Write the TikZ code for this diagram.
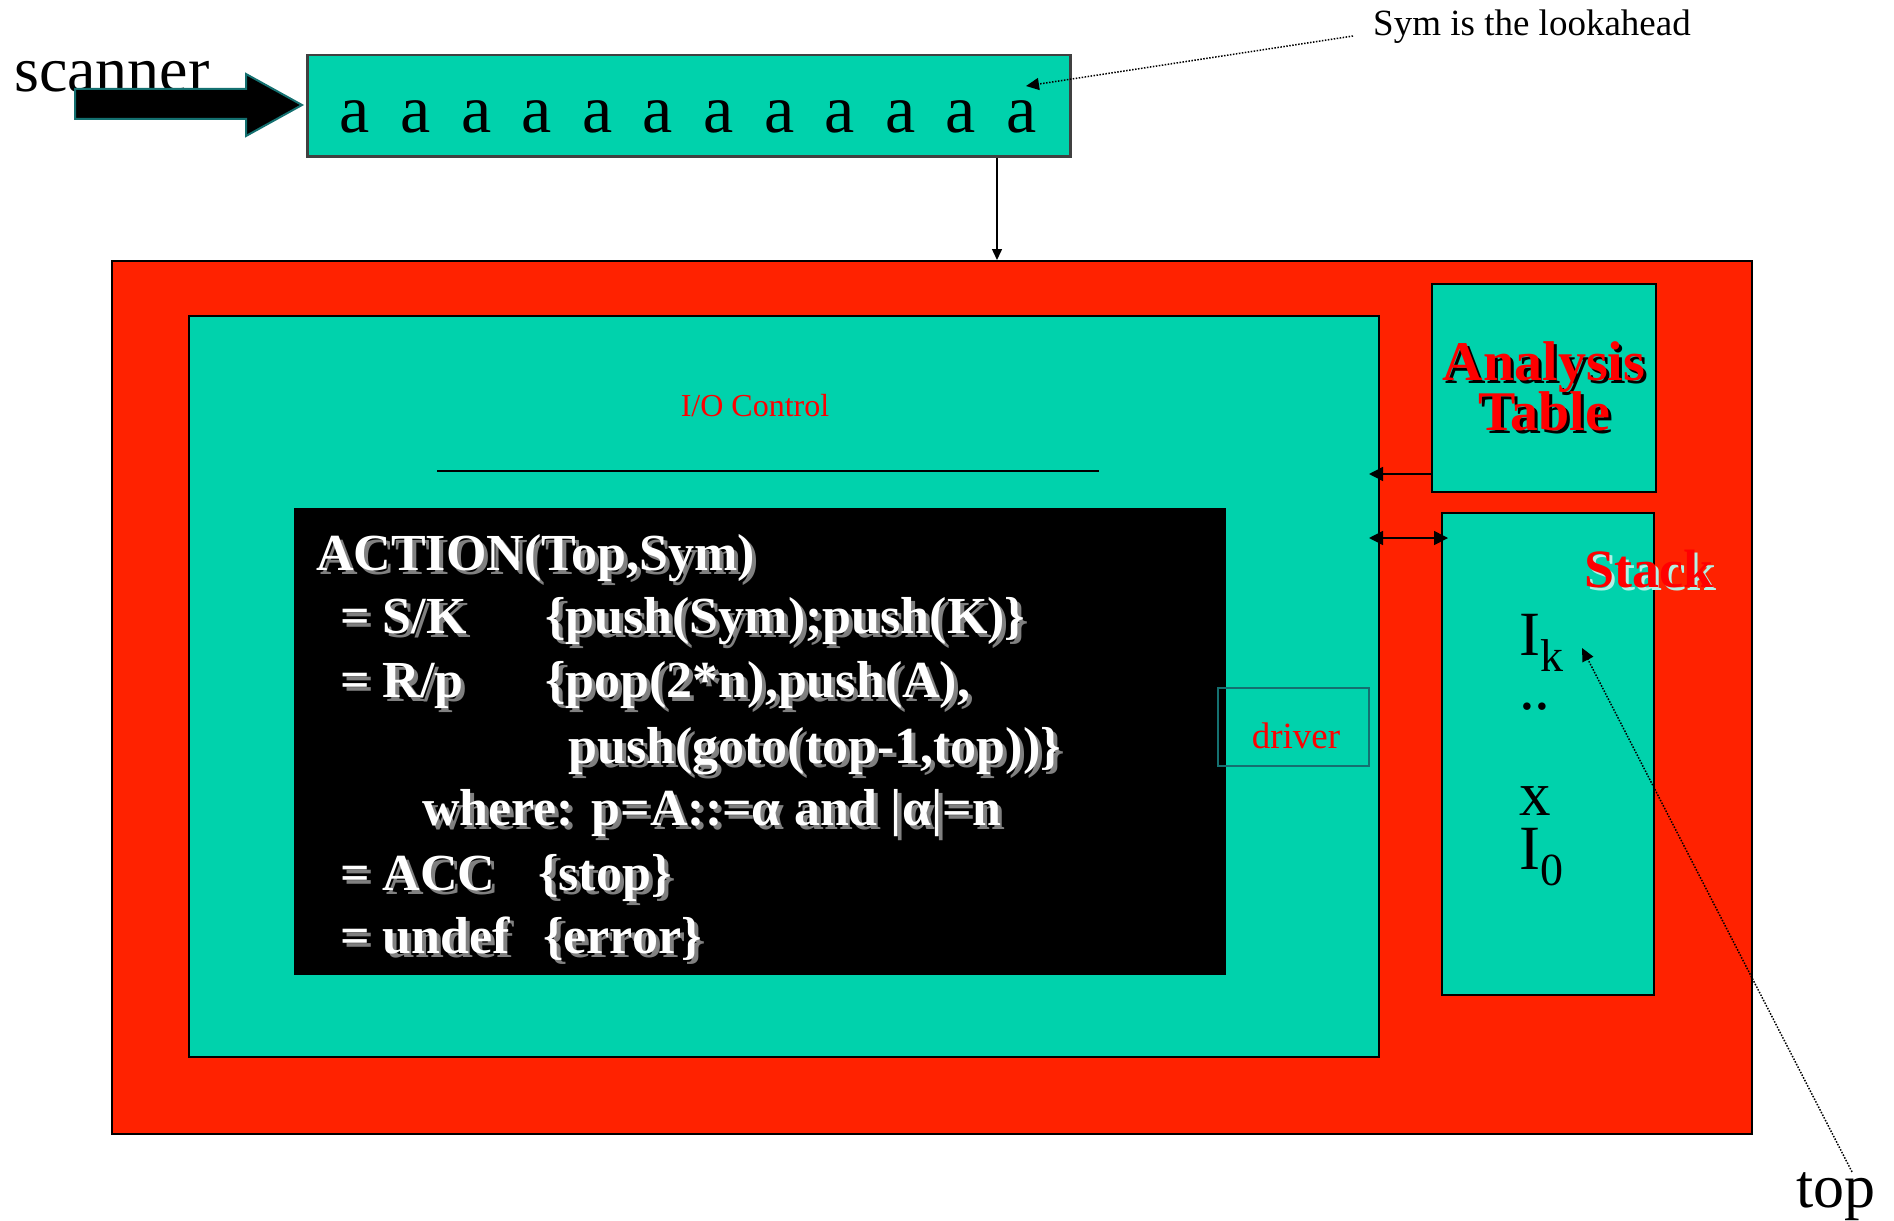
\documentclass[tikz,border=0pt]{standalone}
\usepackage{fontspec}
\setmainfont{Liberation Serif}
\usetikzlibrary{arrows.meta}

\definecolor{sea}{RGB}{0,210,172}
\definecolor{flame}{RGB}{255,34,0}
\definecolor{drvedge}{RGB}{20,112,112}

\newcommand{\fsz}[1]{\fontsize{#1}{#1}\selectfont}
% text with a drop shadow: text, shadow colour, offset
\newcommand{\shadowed}[3]{\rlap{\hspace{#3}\raisebox{-#3}{\color{#2}#1}}#1}
\newcommand{\cl}[1]{\shadowed{#1}{gray}{4pt}}

\tikzset{
  panel/.style={draw=black, line width=2pt, fill=sea, anchor=north west, inner sep=0pt},
  txt/.style={inner sep=0pt, font=\fsz{#1}},
  codeline/.style={anchor=base west, inner sep=0pt, text=white, font=\fsz{52}\bfseries},
  arrowline/.style={line width=1.5pt, >={Triangle[length=14pt,width=14pt]}},
  dotarrow/.style={->, line width=1.5pt, dash pattern=on 1.5pt off 1.5pt,
    >={Triangle[length=13pt,width=12pt]}},
}

\begin{document}
\begin{tikzpicture}[x=1pt,y=-1pt]
\useasboundingbox (0,0) rectangle (1894,1220);

% Input tape
\node[panel, draw=black!75, line width=2.5pt, minimum width=763pt, minimum height=101pt] (tape) at (306,54) {};
\foreach \i in {0,...,11}
  \node[txt=68, anchor=base] (a\i) at (355+60.6*\i,132) {a};

\node[txt=64, anchor=base west] (scanner) at (14,92) {scanner};
\draw[fill=black, draw=drvedge, line width=2pt] (75,89) -- (246,89) -- (246,74) -- (302,105)
  -- (246,136) -- (246,119) -- (75,119) -- cycle;

\node[txt=37, anchor=base west, inner xsep=20pt] (lookahead) at (1353,36) {Sym is the lookahead};
\coordinate (symtip) at (1026,86);
\draw[dotarrow] (lookahead.base west) -- (symtip);

% Parser
\node[panel, fill=flame, minimum width=1640pt, minimum height=873pt] (outer) at (111,260) {};
\coordinate (feed) at (997,0);
\draw[arrowline, ->, >={Triangle[length=11pt,width=10pt]}] (tape.south -| feed) -- (outer.north -| feed);

\node[panel, minimum width=1190pt, minimum height=741pt] (main) at (188,315) {};
\node[txt=32, text=red, anchor=base] (io) at (755,416) {I/O Control};
\draw[line width=1.5pt] (437,471) -- (1099,471);

\node[panel, draw=none, fill=black, minimum width=932pt, minimum height=467pt] (code) at (293,507) {};
\node[codeline] (act) at (316,570) {\cl{ACTION(Top,Sym)}};
\node[codeline] (shift) at (340,633) {\cl{= S/K}};
\node[codeline] (shiftdo) at (545,633) {\cl{\{push(Sym);push(K)\}}};
\node[codeline] (reduce) at (340,697) {\cl{= R/p}};
\node[codeline] (reducedo) at (545,697) {\cl{\{pop(2*n),push(A),}};
\node[codeline] (reducego) at (568,763) {\cl{push(goto(top-1,top))\}}};
\node[codeline] (where) at (422,825) {\cl{where: p=A::=α and |α|=n}};
\node[codeline] (accept) at (340,890) {\cl{= ACC}};
\node[codeline] (acceptdo) at (538,890) {\cl{\{stop\}}};
\node[codeline] (undef) at (340,953) {\cl{= undef}};
\node[codeline] (undefdo) at (543,953) {\cl{\{error\}}};

\node[draw=drvedge, line width=2pt, anchor=north west, inner sep=0pt, minimum width=151pt, minimum height=78pt] (driver) at (1217,687) {};
\node[txt=37, text=red, anchor=base] (drvtext) at (1296,748) {driver};

% Table and stack
\node[panel, minimum width=224pt, minimum height=208pt, align=center, text=red, font=\fsz{56}\bfseries] (table) at (1431,283)
  {\shadowed{Analysis}{black}{3pt}\\[-6pt]\shadowed{Table}{black}{3pt}};
\coordinate (tabrow) at (0,474);
\draw[arrowline, ->, shorten >=-11pt] (table.west |- tabrow) -- (main.east |- tabrow);

\node[panel, minimum width=212pt, minimum height=482pt] (stack) at (1441,512) {};
\coordinate (stkrow) at (0,538);
\draw[arrowline, <->, shorten <=-11pt, shorten >=-7pt] (main.east |- stkrow) -- (stack.west |- stkrow);

\node[inner sep=0pt, anchor=base, text=red, font=\fsz{54}\bfseries] (stacktitle) at (1649,587) {\shadowed{Stack}{white!70!sea}{3pt}};
\node[txt=63, anchor=base west] (topcell) at (1519,655) {I\raisebox{-16pt}{\fsz{46}k}};
\node[txt=63, anchor=base west] (dots) at (1519,709) {..};
\node[txt=63, anchor=base west] (xcell) at (1519,815) {x};
\node[txt=63, anchor=base west] (bottomcell) at (1519,869) {I\raisebox{-16pt}{\fsz{46}0}};

\node[txt=62, anchor=base] (toplabel) at (1836,1207) {top};
\coordinate (toptip) at (1582,648);
\draw[dotarrow] ([xshift=16pt]toplabel.north) -- (toptip);
\end{tikzpicture}
\end{document}
